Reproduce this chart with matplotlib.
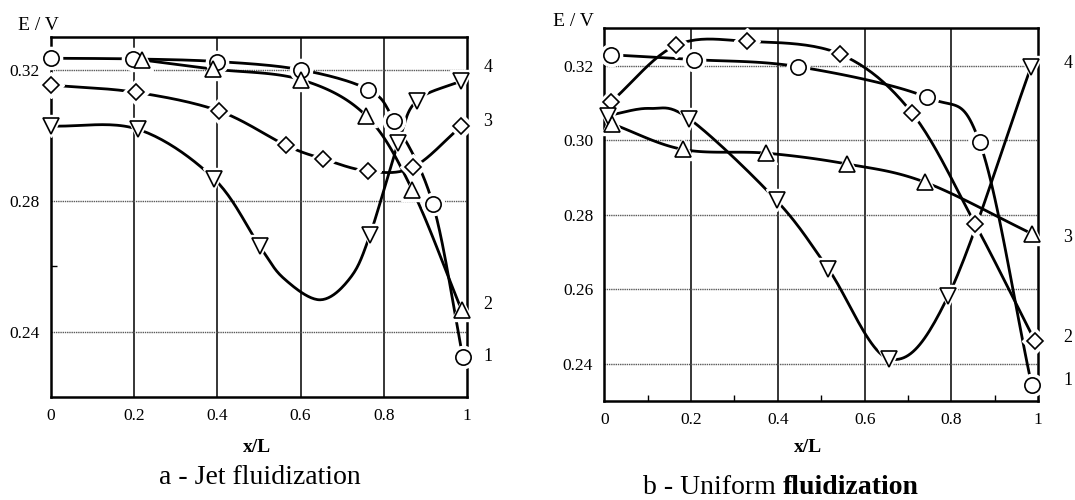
import numpy as np
import matplotlib.pyplot as plt

plt.rcParams["font.family"] = ["Liberation Serif", "DejaVu Serif"]

# a - jet fluidization (curve number -> marker)
a_circle_x = [0.0, 0.197, 0.40, 0.60, 0.763, 0.825, 0.918, 0.99]
a_circle_y = [0.3235, 0.3233, 0.3225, 0.3200, 0.3139, 0.3044, 0.2790, 0.2323]
a_tri_up_x = [0.218, 0.39, 0.60, 0.757, 0.868, 0.987]
a_tri_up_y = [0.3230, 0.3202, 0.3170, 0.3060, 0.2834, 0.2466]
a_diamond_x = [0.0, 0.204, 0.404, 0.565, 0.653, 0.763, 0.87, 0.986]
a_diamond_y = [0.3153, 0.3131, 0.3074, 0.2969, 0.2928, 0.2890, 0.2902, 0.3027]
a_tri_dn_x = [0.0, 0.209, 0.392, 0.502, 0.767, 0.835, 0.879, 0.986]
a_tri_dn_y = [0.3028, 0.3018, 0.2867, 0.2660, 0.2696, 0.2977, 0.3105, 0.3166]
# unmarked bends of the curve 4 trace
a_tri_dn_bend_x = [0.56, 0.647, 0.72]
a_tri_dn_bend_y = [0.2562, 0.2497, 0.2565]

# b - uniform fluidization
b_circle_x = [0.015, 0.207, 0.447, 0.743, 0.865, 0.985]
b_circle_y = [0.3229, 0.3216, 0.3197, 0.3115, 0.2994, 0.2342]
b_tri_up_x = [0.017, 0.181, 0.373, 0.559, 0.739, 0.985]
b_tri_up_y = [0.3044, 0.2975, 0.2965, 0.2936, 0.2887, 0.2749]
b_diamond_x = [0.015, 0.165, 0.33, 0.543, 0.709, 0.855, 0.992]
b_diamond_y = [0.3102, 0.3254, 0.3265, 0.3231, 0.3073, 0.2774, 0.2462]
b_tri_dn_x = [0.009, 0.196, 0.397, 0.516, 0.657, 0.793, 0.983]
b_tri_dn_y = [0.3066, 0.3057, 0.2838, 0.2655, 0.2413, 0.2583, 0.3195]
b_tri_dn_bend_x = [0.105]
b_tri_dn_bend_y = [0.3085]

x_ticks = [0, 0.2, 0.4, 0.6, 0.8, 1.0]
x_tick_labels = ["0", "0.2", "0.4", "0.6", "0.8", "1"]
a_y_ticks = [0.24, 0.28, 0.32]
b_y_ticks = [0.24, 0.26, 0.28, 0.30, 0.32]

a_curve_labels = [("4", 0.3208), ("3", 0.3043), ("2", 0.2482), ("1", 0.2323)]
b_curve_labels = [("4", 0.3205), ("3", 0.2739), ("2", 0.2471), ("1", 0.2355)]


def smooth_curve(xs, ys, steps=24):
    # Catmull-Rom spline through the read points
    pts = np.column_stack([xs, ys])
    pts = np.vstack([2 * pts[0] - pts[1], pts, 2 * pts[-1] - pts[-2]])
    t = np.linspace(0, 1, steps, endpoint=False)[:, None]
    out = []
    for i in range(1, len(pts) - 2):
        p0, p1, p2, p3 = pts[i - 1], pts[i], pts[i + 1], pts[i + 2]
        seg = 0.5 * (2 * p1 + (p2 - p0) * t
                     + (2 * p0 - 5 * p1 + 4 * p2 - p3) * t ** 2
                     + (3 * p1 - p0 - 3 * p2 + p3) * t ** 3)
        out.append(seg)
    out.append(pts[-2][None, :])
    out = np.vstack(out)
    return out[:, 0], out[:, 1]


def merged(xs, ys, bx, by):
    px = np.concatenate([xs, bx])
    py = np.concatenate([ys, by])
    order = np.argsort(px)
    return px[order], py[order]


def draw_series(ax, xs, ys, marker, ms, line_x=None, line_y=None):
    if line_x is None:
        line_x, line_y = xs, ys
    sx, sy = smooth_curve(line_x, line_y)
    ax.plot(sx, sy, color="black", lw=2.0, zorder=2, clip_on=False)
    # white halo gives the broken look of the lines near the markers
    ax.plot(xs, ys, ls="none", marker=marker, ms=ms + 5, mfc="white",
            mec="white", zorder=3, clip_on=False)
    ax.plot(xs, ys, ls="none", marker=marker, ms=ms, mfc="white",
            mec="black", mew=1.2, zorder=4, clip_on=False)


def style_axes(ax, y_ticks, ylim):
    ax.set_xlim(0, 1)
    ax.set_ylim(*ylim)
    ax.set_xticks(x_ticks)
    ax.set_xticklabels(x_tick_labels)
    ax.set_yticks(y_ticks)
    ax.set_yticklabels([f"{v:.2f}" for v in y_ticks])
    ax.tick_params(direction="in", length=0, labelsize=12.5, pad=8)
    for v in x_ticks[1:-1]:
        ax.axvline(v, color="black", lw=1.1, zorder=1)
    for v in y_ticks:
        ax.axhline(v, color="0.35", lw=1.0, ls=(0, (1, 0.6)), zorder=1)
    for sp in ax.spines.values():
        sp.set_linewidth(1.8)


fig = plt.figure(figsize=(10.75, 5), dpi=100)

ax_a = fig.add_axes([0.0474, 0.206, 0.387, 0.72])
style_axes(ax_a, a_y_ticks, (0.22, 0.33))
ax_a.set_yticks([0.26], minor=True)
ax_a.tick_params(which="minor", direction="in", length=4, width=1)
draw_series(ax_a, a_circle_x, a_circle_y, "o", 11)
draw_series(ax_a, a_tri_up_x, a_tri_up_y, "^", 11)
draw_series(ax_a, a_diamond_x, a_diamond_y, "D", 8)
lx, ly = merged(a_tri_dn_x, a_tri_dn_y, a_tri_dn_bend_x, a_tri_dn_bend_y)
draw_series(ax_a, a_tri_dn_x, a_tri_dn_y, "v", 11, lx, ly)
for txt, yv in a_curve_labels:
    ax_a.text(1.04, yv, txt, fontsize=13, ha="left", va="center",
              clip_on=False)

ax_b = fig.add_axes([0.5621, 0.198, 0.4037, 0.7454])
style_axes(ax_b, b_y_ticks, (0.23, 0.33))
ax_b.set_xticks([0.1, 0.3, 0.5, 0.7, 0.9], minor=True)
ax_b.tick_params(which="minor", direction="in", length=4, width=1)
draw_series(ax_b, b_circle_x, b_circle_y, "o", 11)
draw_series(ax_b, b_tri_up_x, b_tri_up_y, "^", 11)
draw_series(ax_b, b_diamond_x, b_diamond_y, "D", 8)
lx, ly = merged(b_tri_dn_x, b_tri_dn_y, b_tri_dn_bend_x, b_tri_dn_bend_y)
draw_series(ax_b, b_tri_dn_x, b_tri_dn_y, "v", 11, lx, ly)
for txt, yv in b_curve_labels:
    ax_b.text(1.058, yv, txt, fontsize=13, ha="left", va="center",
              clip_on=False)

fig.text(18 / 1075, 1 - 25 / 500, "E / V", fontsize=14, va="center")
fig.text(553 / 1075, 1 - 22 / 500, "E / V", fontsize=14, va="center")
fig.text(257 / 1075, 1 - 447 / 500, "x/L", fontsize=14, weight="bold",
         ha="center", va="center")
fig.text(808 / 1075, 1 - 448 / 500, "x/L", fontsize=14, weight="bold",
         ha="center", va="center")
fig.text(260 / 1075, 1 - 477 / 500, "a - Jet fluidization", fontsize=20,
         ha="center", va="center")
fig.text(783 / 1075, 1 - 487 / 500, "b - Uniform ", fontsize=20,
         ha="right", va="center")
fig.text(783 / 1075, 1 - 487 / 500, "fluidization", fontsize=20,
         weight="bold", ha="left", va="center")

fig.savefig("out.png", dpi=100)
